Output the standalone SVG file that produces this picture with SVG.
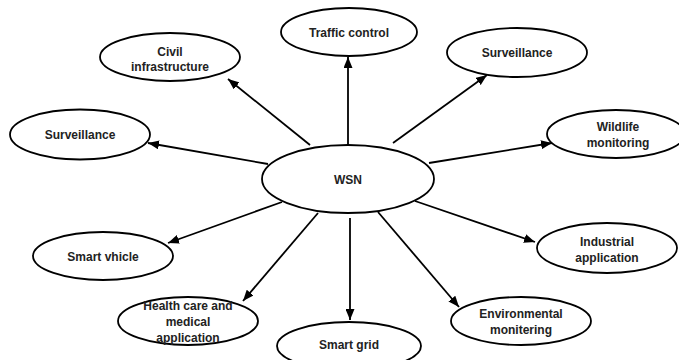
<svg xmlns="http://www.w3.org/2000/svg" width="679" height="360" viewBox="0 0 679 360">
  <style>
    .node ellipse { fill: #ffffff; stroke: #000000; stroke-width: 1.8; }
    .node text { font-family: "Liberation Sans", Arial, Helvetica, sans-serif; font-weight: bold; font-size: 12px; fill: #222222; text-anchor: middle; }
    .edge { stroke: #000000; stroke-width: 1.8; fill: none; marker-end: url(#arrow); }
  </style>
  <defs>
    <marker id="arrow" markerUnits="userSpaceOnUse" markerWidth="11" markerHeight="9" refX="11" refY="4.5" orient="auto">
      <path d="M0,0 L11,4.5 L0,9 z" fill="#000000"/>
    </marker>
  </defs>
  <rect width="679" height="360" fill="#ffffff"/>

  <!-- connectors from the hub to each application -->
  <g id="connectors">
    <line class="edge" x1="348" y1="145" x2="348" y2="57"/>
    <line class="edge" x1="310" y1="145" x2="228" y2="79"/>
    <line class="edge" x1="268" y1="164" x2="148" y2="143"/>
    <line class="edge" x1="393" y1="143" x2="487" y2="75"/>
    <line class="edge" x1="429" y1="163" x2="552" y2="143"/>
    <line class="edge" x1="282" y1="202" x2="168" y2="243"/>
    <line class="edge" x1="318" y1="213" x2="243" y2="301"/>
    <line class="edge" x1="350" y1="218" x2="350" y2="320"/>
    <line class="edge" x1="415" y1="201" x2="535" y2="242"/>
    <line class="edge" x1="378" y1="212" x2="459" y2="307"/>
  </g>

  <g id="wsn" class="node">
    <ellipse cx="348" cy="179" rx="86" ry="34"/>
    <text x="348" y="183.5">WSN</text>
  </g>

  <g id="traffic-control" class="node">
    <ellipse cx="349" cy="32" rx="68" ry="24"/>
    <text x="349" y="37">Traffic control</text>
  </g>

  <g id="civil-infrastructure" class="node">
    <ellipse cx="170" cy="57" rx="70" ry="24"/>
    <text x="170" y="55.5">Civil</text>
    <text x="170" y="70.5">infrastructure</text>
  </g>

  <g id="surveillance-left" class="node">
    <ellipse cx="80" cy="134.5" rx="70" ry="25"/>
    <text x="80" y="139">Surveillance</text>
  </g>

  <g id="surveillance-right" class="node">
    <ellipse cx="517" cy="52.5" rx="70" ry="24.5"/>
    <text x="517" y="57">Surveillance</text>
  </g>

  <g id="wildlife-monitoring" class="node">
    <ellipse cx="616" cy="134" rx="69" ry="24"/>
    <text x="618" y="131">Wildlife</text>
    <text x="618" y="147">monitoring</text>
  </g>

  <g id="smart-vhicle" class="node">
    <ellipse cx="103" cy="256" rx="70" ry="24"/>
    <text x="103" y="261">Smart vhicle</text>
  </g>

  <g id="health-care" class="node">
    <ellipse cx="188" cy="321" rx="70" ry="24"/>
    <text x="188" y="310">Health care and</text>
    <text x="188" y="326">medical</text>
    <text x="188" y="341.5">application</text>
  </g>

  <g id="smart-grid" class="node">
    <ellipse cx="349" cy="346" rx="72" ry="24"/>
    <text x="349" y="348.5">Smart grid</text>
  </g>

  <g id="industrial-application" class="node">
    <ellipse cx="607" cy="248" rx="70" ry="25"/>
    <text x="607" y="246">Industrial</text>
    <text x="607" y="262">application</text>
  </g>

  <g id="environmental-monitering" class="node">
    <ellipse cx="521" cy="321" rx="70" ry="24"/>
    <text x="521" y="318">Environmental</text>
    <text x="521" y="334">monitering</text>
  </g>
</svg>
